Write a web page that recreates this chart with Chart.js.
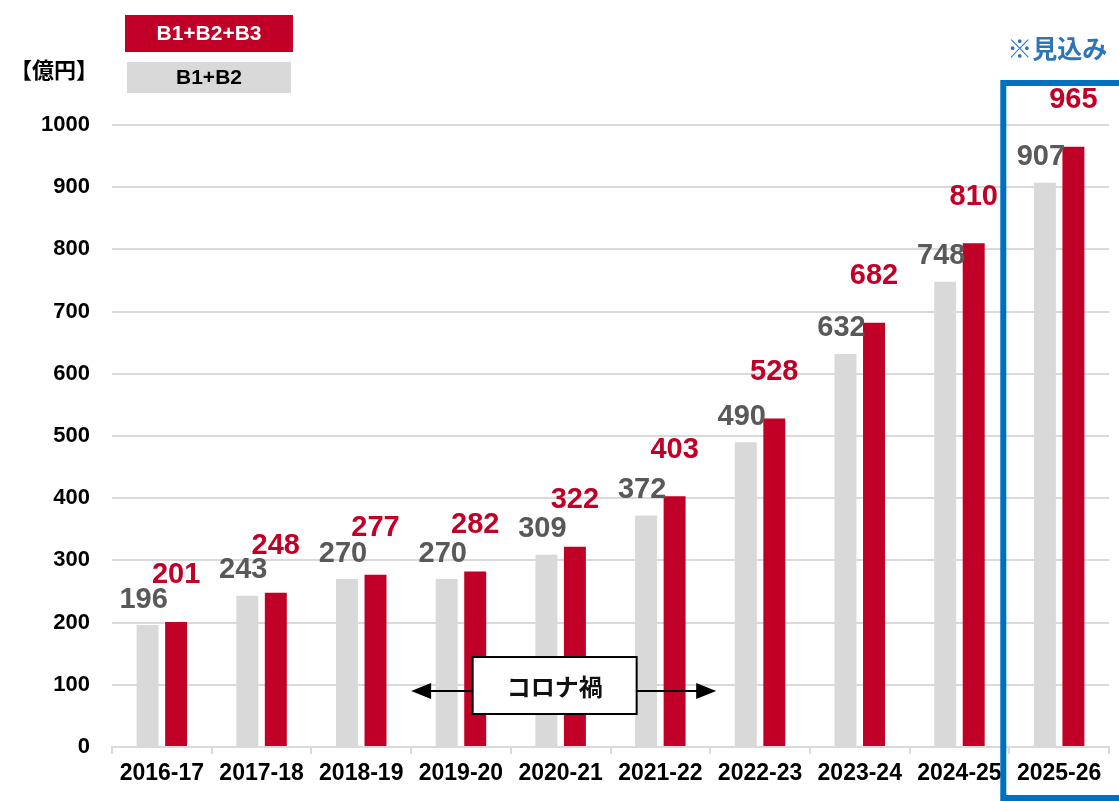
<!DOCTYPE html>
<html>
<head>
<meta charset="utf-8">
<script src="https://cdn.jsdelivr.net/npm/chart.js@4/dist/chart.umd.min.js"></script>
<style>
  html, body { margin: 0; padding: 0; background: #fff; }
  #wrap { width: 1119px; height: 801px; position: relative; }
</style>
</head>
<body>
<div id="wrap"><canvas id="chart"></canvas></div>
<script>
const years = ["2016-17", "2017-18", "2018-19", "2019-20", "2020-21", "2021-22", "2022-23", "2023-24", "2024-25", "2025-26"];
const b1b2 = [196, 243, 270, 270, 309, 372, 490, 632, 748, 907];
const b1b2b3 = [201, 248, 277, 282, 322, 403, 528, 682, 810, 965];
const yTicks = [0, 100, 200, 300, 400, 500, 600, 700, 800, 900, 1000];

const RED = "#c00027";
const GRAY = "#d9d9d9";
const BLUE = "#0070c0";
const LATIN = "'Liberation Sans', Arial, sans-serif";
const CJK = "'Noto Sans CJK JP', sans-serif";

// value labels above the bars
const barLabels = {
  id: "barLabels",
  afterDatasetsDraw(chart) {
    const { ctx } = chart;
    ctx.save();
    ctx.font = "bold 29px " + LATIN;
    ctx.textAlign = "center";
    ctx.textBaseline = "bottom";
    chart.data.datasets.forEach((ds, i) => {
      const meta = chart.getDatasetMeta(i);
      meta.data.forEach((bar, j) => {
        if (i === 0) {
          ctx.fillStyle = "#595959";
          ctx.fillText(ds.data[j], bar.x - 4, bar.y - 11);
        } else {
          ctx.fillStyle = RED;
          ctx.fillText(ds.data[j], bar.x, bar.y - 32);
        }
      });
    });
    ctx.restore();
  },
};

// legend boxes, unit, corona note and forecast frame
const extras = {
  id: "extras",
  afterDraw(chart) {
    const { ctx, scales: { x, y } } = chart;
    const cat = x.getPixelForValue(1) - x.getPixelForValue(0);
    ctx.save();

    // legend
    ctx.fillStyle = RED;
    ctx.fillRect(125, 15, 168, 37);
    ctx.fillStyle = GRAY;
    ctx.fillRect(127, 62, 164, 31);
    ctx.textAlign = "center";
    ctx.textBaseline = "middle";
    ctx.font = "bold 21px " + LATIN;
    ctx.fillStyle = "#fff";
    ctx.fillText("B1+B2+B3", 209, 34);
    ctx.fillStyle = "#000";
    ctx.fillText("B1+B2", 209, 78);

    // unit
    ctx.font = "bold 22px " + CJK;
    ctx.textAlign = "left";
    ctx.fillText("【億円】", 10, 70);

    // corona period
    const left = x.getPixelForValue(3) - cat / 2;
    const right = x.getPixelForValue(5) + cat / 2 + 6;
    const mid = x.getPixelForValue(4) - 6;
    const ay = y.getPixelForValue(90);
    ctx.strokeStyle = "#000";
    ctx.fillStyle = "#000";
    ctx.lineWidth = 2;
    ctx.beginPath();
    ctx.moveTo(left + 18, ay);
    ctx.lineTo(right - 18, ay);
    ctx.stroke();
    ctx.beginPath();
    ctx.moveTo(left, ay);
    ctx.lineTo(left + 20, ay - 8);
    ctx.lineTo(left + 20, ay + 8);
    ctx.closePath();
    ctx.fill();
    ctx.beginPath();
    ctx.moveTo(right, ay);
    ctx.lineTo(right - 20, ay - 8);
    ctx.lineTo(right - 20, ay + 8);
    ctx.closePath();
    ctx.fill();
    ctx.fillStyle = "#fff";
    ctx.fillRect(mid - 82, ay - 34, 164, 57);
    ctx.strokeRect(mid - 82, ay - 34, 164, 57);
    ctx.fillStyle = "#111";
    ctx.font = "600 24px " + CJK;
    ctx.textAlign = "center";
    ctx.fillText("コロナ禍", mid, ay - 4);

    // forecast frame
    const bx = x.getPixelForValue(9) - cat / 2 - 6;
    ctx.strokeStyle = BLUE;
    ctx.lineWidth = 6;
    ctx.strokeRect(bx, 83, 140, 715);
    ctx.fillStyle = "#2e75b6";
    ctx.font = "bold 25px " + CJK;
    ctx.fillText("※見込み", bx + 54, 48);

    ctx.restore();
  },
};

new Chart(document.getElementById("chart"), {
  type: "bar",
  data: {
    labels: years,
    datasets: [
      { label: "B1+B2", data: b1b2, backgroundColor: GRAY },
      { label: "B1+B2+B3", data: b1b2b3, backgroundColor: RED },
    ],
  },
  options: {
    responsive: true,
    maintainAspectRatio: false,
    animation: false,
    categoryPercentage: 0.572,
    barPercentage: 0.77,
    layout: { padding: { top: 125, right: 10, left: 0, bottom: 0 } },
    plugins: {
      legend: { display: false },
      tooltip: { enabled: false },
    },
    scales: {
      x: {
        afterFit: (s) => { s.height = 54; },
        grid: {
          drawOnChartArea: false,
          drawTicks: true,
          tickLength: 7,
          color: GRAY,
          lineWidth: 2,
        },
        border: { color: GRAY, width: 2 },
        ticks: {
          color: "#000",
          padding: 6,
          font: { family: LATIN, size: 23, weight: "bold" },
        },
      },
      y: {
        min: yTicks[0],
        max: yTicks[yTicks.length - 1],
        afterFit: (s) => { s.width = 112; },
        afterBuildTicks: (s) => { s.ticks = yTicks.map((v) => ({ value: v })); },
        grid: { color: GRAY, lineWidth: 2, drawTicks: false },
        border: { display: false },
        ticks: {
          color: "#000",
          padding: 22,
          callback: (v) => String(v),
          font: { family: LATIN, size: 22, weight: "bold" },
        },
      },
    },
  },
  plugins: [barLabels, extras],
});
</script>
</body>
</html>
